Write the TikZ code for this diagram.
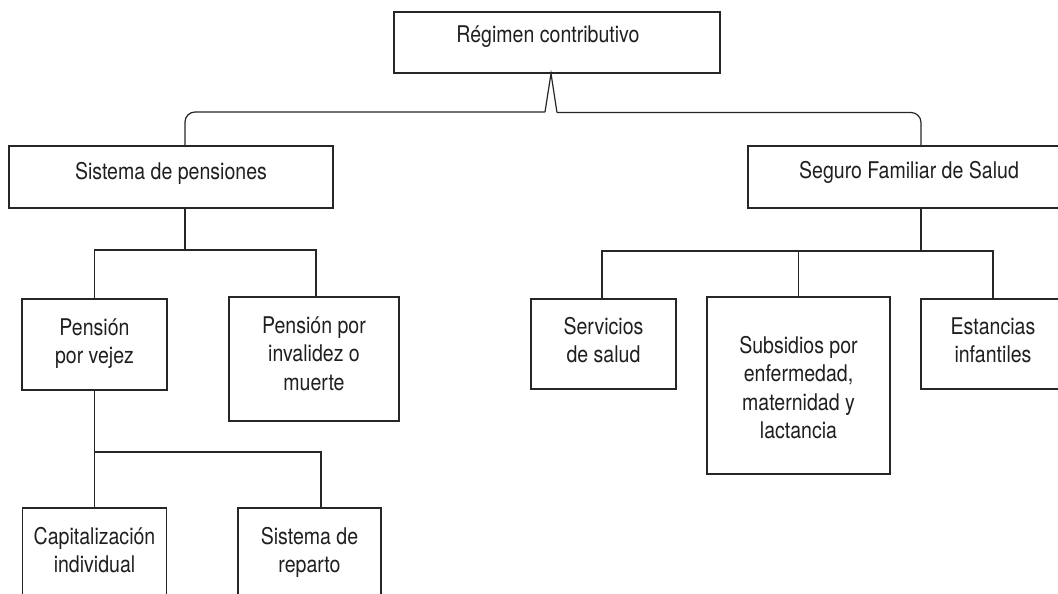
\documentclass[tikz,border=0pt]{standalone}
\usepackage{fontspec}
\setmainfont{TeX Gyre Heros}[FakeStretch=0.85]
\newcommand\boxtext[2]{\raisebox{#1}[0pt][0pt]{\begin{tabular}[t]{@{}c@{}}#2\end{tabular}}}
\begin{document}
\begin{tikzpicture}[x=1pt,y=-1pt,
  box/.style={draw=black!85, line width=1.2pt, rectangle, inner sep=0pt, text=black!88,
    font=\fontsize{23}{28.5}\selectfont},
  conn/.style={draw=black!85, line width=1.2pt}]
\useasboundingbox (0,0) rectangle (1058,594);
\clip (0,0) rectangle (1058,594);
% boxes
\node[box, minimum width=326, minimum height=61] (top) at (557,42.5) {\hspace*{-18pt}\boxtext{-0.5pt}{Régimen contributivo}};
\node[box, minimum width=324, minimum height=62] (sis) at (171,177) {\boxtext{-2pt}{Sistema de pensiones}};
\node[box, minimum width=322, minimum height=62] (seg) at (909,177) {\boxtext{-1pt}{Seguro Familiar de Salud}};
\node[box, minimum width=145, minimum height=91] (vejez) at (94.5,344.5) {\boxtext{9.5pt}{Pensión\\por vejez}};
\node[box, minimum width=170, minimum height=124] (inv) at (314,359) {\boxtext{26pt}{Pensión por\\invalidez o\\muerte}};
\node[box, minimum width=144, minimum height=112] (cap) at (94.5,564) {\boxtext{20pt}{Capitalización\\individual}};
\node[box, minimum width=143, minimum height=112] (rep) at (309.5,564) {\boxtext{20pt}{Sistema de\\reparto}};
\node[box, minimum width=145, minimum height=90] (serv) at (603.5,344) {\boxtext{10pt}{Servicios\\de salud}};
\node[box, minimum width=183, minimum height=177] (sub) at (798.5,385.5) {\boxtext{32.5pt}{Subsidios por\\enfermedad,\\maternidad y\\lactancia}};
\node[box, minimum width=144, minimum height=90] (est) at (993,344) {\boxtext{10pt}{Estancias\\infantiles}};
% junction points
\coordinate (apex) at ([xshift=-6pt]top.south);
\coordinate (bl) at (545,112);
\coordinate (br) at (557,112.5);
\coordinate (j1) at (185,250);
\coordinate (j2) at (94.5,452);
\coordinate (j3) at (921,251);
% connectors
\draw[conn, rounded corners=10pt] ([xshift=14pt]sis.north) |- (bl);
\draw[conn] (bl) -- (apex) -- (br);
\draw[conn, rounded corners=10pt] (br) -| ([xshift=12pt]seg.north);
\draw[conn] ([xshift=14pt]sis.south) -- (j1);
\draw[conn] (vejez.north) |- (j1);
\draw[conn] ([xshift=2pt]inv.north) |- (j1);
\draw[conn] (vejez.south) -- (cap.north);
\draw[conn] ([xshift=11.5pt]rep.north) |- (j2);
\draw[conn] ([xshift=12pt]seg.south) -- (j3);
\draw[conn] ([xshift=-1.5pt]serv.north) |- (j3);
\draw[conn] (sub.north) |- (j3);
\draw[conn] (est.north) |- (j3);
\end{tikzpicture}
\end{document}
